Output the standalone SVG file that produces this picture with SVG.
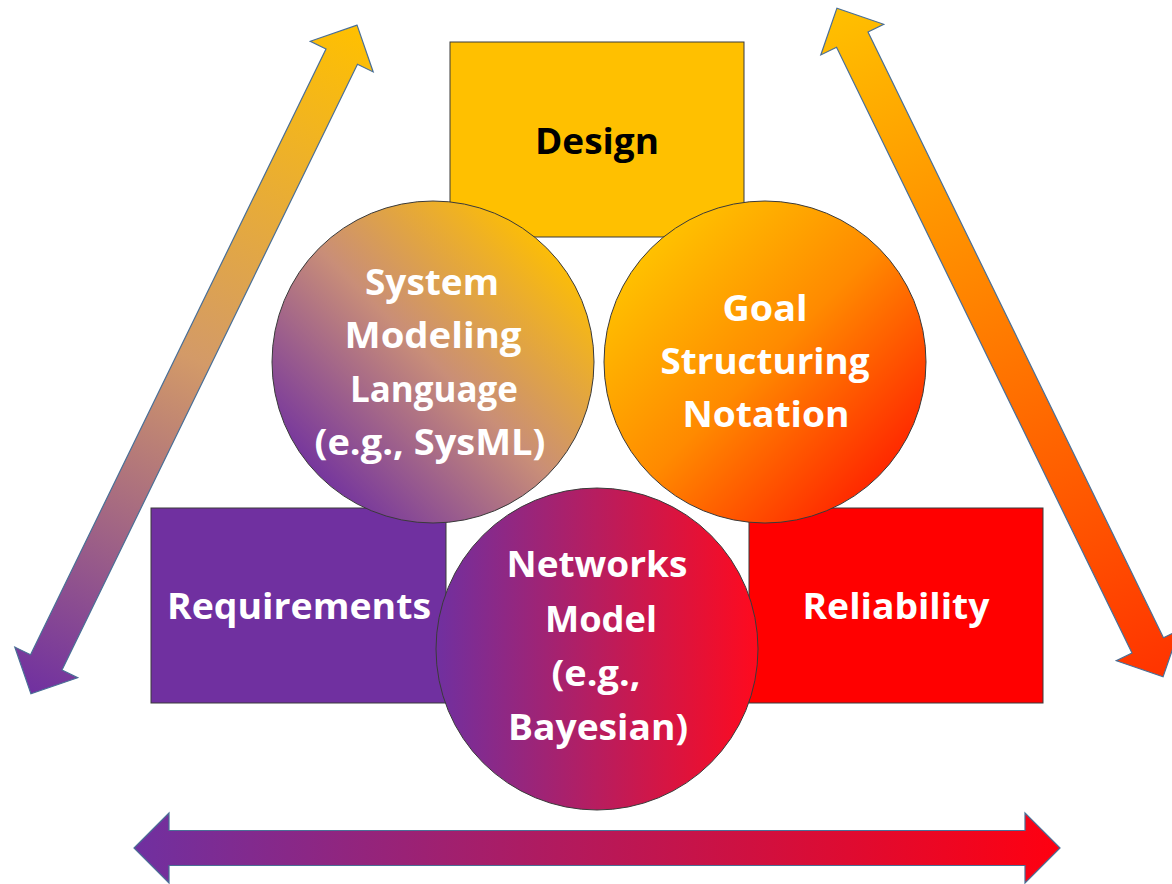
<svg xmlns="http://www.w3.org/2000/svg" width="1172" height="884" viewBox="0 0 1172 884">
  <style>
    .lbl { font-family: "Open Sans", "Noto Sans", "Liberation Sans", sans-serif; font-weight: 700; font-size: 36px; text-anchor: middle; fill: #ffffff; }
    .dark { fill: #000000; }
    .box { stroke: #3a3a3a; stroke-width: 1; }
    .disc { stroke: #3a3a3a; stroke-width: 1; }
    .arrow { stroke: #4a6f96; stroke-width: 1.2; stroke-linejoin: miter; }
  </style>
  <defs>
    <!-- double-headed block arrow, drawn along +x, centred on the origin -->
    <linearGradient id="gLeftArrow" x1="0" y1="0" x2="1" y2="0">
      <stop offset="0" stop-color="#7030A0"/>
      <stop offset="0.5" stop-color="#D39A68"/>
      <stop offset="1" stop-color="#FFC000"/>
    </linearGradient>
    <linearGradient id="gRightArrow" x1="0" y1="0" x2="1" y2="0">
      <stop offset="0" stop-color="#FF3300"/>
      <stop offset="1" stop-color="#FFC000"/>
    </linearGradient>
    <linearGradient id="gBottomArrow" x1="0" y1="0" x2="1" y2="0">
      <stop offset="0" stop-color="#7030A0"/>
      <stop offset="1" stop-color="#FF0010"/>
    </linearGradient>
    <linearGradient id="gSysml" x1="0.12" y1="0.88" x2="0.88" y2="0.12">
      <stop offset="0" stop-color="#7030A0"/>
      <stop offset="0.5" stop-color="#C98E78"/>
      <stop offset="1" stop-color="#FFC000"/>
    </linearGradient>
    <linearGradient id="gGsn" x1="0.15" y1="0.15" x2="0.85" y2="0.85">
      <stop offset="0" stop-color="#FFC000"/>
      <stop offset="0.5" stop-color="#FF8A00"/>
      <stop offset="1" stop-color="#FF2A00"/>
    </linearGradient>
    <linearGradient id="gNet" x1="0" y1="0" x2="1" y2="0">
      <stop offset="0" stop-color="#7030A0"/>
      <stop offset="1" stop-color="#FF0A1E"/>
    </linearGradient>
  </defs>

  <!-- connectors: three double-headed block arrows around the triangle -->
  <g id="connectors">
    <polygon class="arrow" fill="url(#gLeftArrow)" transform="translate(194 359.5) rotate(-64)"
      points="372,0 337,-35 337,-17.5 -337,-17.5 -337,-35 -372,0 -337,35 -337,17.5 337,17.5 337,35"/>
    <polygon class="arrow" fill="url(#gRightArrow)" transform="translate(1000 342.5) rotate(-116)"
      points="372,0 337,-35 337,-17.5 -337,-17.5 -337,-35 -372,0 -337,35 -337,17.5 337,17.5 337,35"/>
    <polygon class="arrow" fill="url(#gBottomArrow)" transform="translate(597 848)"
      points="463,0 428,-35 428,-17.5 -428,-17.5 -428,-35 -463,0 -428,35 -428,17.5 428,17.5 428,35"/>
  </g>

  <!-- corner boxes -->
  <g id="design">
    <rect class="box" x="450" y="42" width="294" height="195" fill="#FFC000"/>
    <text class="lbl dark" x="597" y="154" textLength="124" lengthAdjust="spacingAndGlyphs">Design</text>
  </g>
  <g id="requirements">
    <rect class="box" x="151" y="508" width="295" height="195" fill="#7030A0"/>
    <text class="lbl" x="299" y="619" textLength="264" lengthAdjust="spacingAndGlyphs">Requirements</text>
  </g>
  <g id="reliability">
    <rect class="box" x="749" y="508" width="294" height="195" fill="#FF0000"/>
    <text class="lbl" x="896" y="619" textLength="187" lengthAdjust="spacingAndGlyphs">Reliability</text>
  </g>

  <!-- method circles -->
  <g id="sysml">
    <circle class="disc" cx="433" cy="362" r="161" fill="url(#gSysml)"/>
    <text class="lbl" x="432" y="295" textLength="134" lengthAdjust="spacingAndGlyphs">System</text>
    <text class="lbl" x="433" y="348" textLength="177" lengthAdjust="spacingAndGlyphs">Modeling</text>
    <text class="lbl" x="434" y="402" textLength="168" lengthAdjust="spacingAndGlyphs">Language</text>
    <text class="lbl" x="430" y="455" textLength="231" lengthAdjust="spacingAndGlyphs">(e.g., SysML)</text>
  </g>
  <g id="gsn">
    <circle class="disc" cx="765" cy="362" r="161" fill="url(#gGsn)"/>
    <text class="lbl" x="765" y="321" textLength="85" lengthAdjust="spacingAndGlyphs">Goal</text>
    <text class="lbl" x="765" y="374" textLength="209" lengthAdjust="spacingAndGlyphs">Structuring</text>
    <text class="lbl" x="766" y="427" textLength="167" lengthAdjust="spacingAndGlyphs">Notation</text>
  </g>
  <g id="networks">
    <circle class="disc" cx="597" cy="649" r="161" fill="url(#gNet)"/>
    <text class="lbl" x="597" y="577" textLength="181" lengthAdjust="spacingAndGlyphs">Networks</text>
    <text class="lbl" x="601" y="632" textLength="112" lengthAdjust="spacingAndGlyphs">Model</text>
    <text class="lbl" x="596" y="686" textLength="89" lengthAdjust="spacingAndGlyphs">(e.g.,</text>
    <text class="lbl" x="598" y="740" textLength="180" lengthAdjust="spacingAndGlyphs">Bayesian)</text>
  </g>
</svg>
